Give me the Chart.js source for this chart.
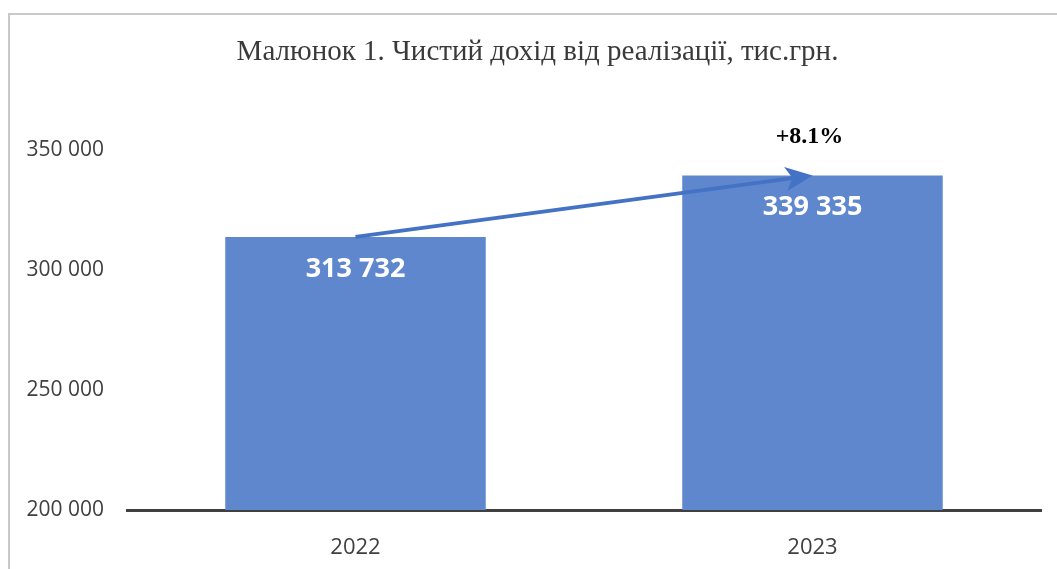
<!DOCTYPE html>
<html>
<head>
<meta charset="utf-8">
<script src="https://cdn.jsdelivr.net/npm/chart.js@4"></script>
<style>
  body { margin: 0; background: #fff; }
  #wrap { position: relative; width: 1057px; height: 569px; overflow: hidden; }
  #frame { position: absolute; left: 8px; top: 13px; width: 1100px; height: 600px;
           border-top: 2px solid #c9c9c9; border-left: 2px solid #c9c9c9; }
  canvas { position: absolute; left: 0; top: 0; }
</style>
</head>
<body>
<div id="wrap">
  <div id="frame"></div>
  <canvas id="chart" width="1057" height="569"></canvas>
</div>
<script>
// Чистий дохід від реалізації, тис.грн.
const years = ['2022', '2023'];
const revenue = [313732, 339335];
const growthLabel = '+8.1%';
const yTicks = [200000, 250000, 300000, 350000];

const fmt = v => String(v).replace(/\B(?=(\d{3})+(?!\d))/g, ' ');

// data labels inside bars, growth arrow and its label
const overlay = {
  id: 'overlay',
  afterDatasetsDraw(chart) {
    const ctx = chart.ctx;
    const bars = chart.getDatasetMeta(0).data;

    ctx.save();
    ctx.fillStyle = '#ffffff';
    ctx.font = 'bold 27px "Open Sans"';
    ctx.textAlign = 'center';
    ctx.textBaseline = 'middle';
    bars.forEach((b, i) => ctx.fillText(fmt(revenue[i]), b.x, b.y + 32));

    // arrow from top of first bar to top of second
    const a = bars[0], b = bars[1];
    const ang = Math.atan2(b.y - a.y, b.x - a.x);
    const headLen = 27, headW = 12;
    const bx = b.x - Math.cos(ang) * headLen * 0.75;
    const by = b.y - Math.sin(ang) * headLen * 0.75;
    ctx.strokeStyle = '#4472C4';
    ctx.fillStyle = '#4472C4';
    ctx.lineWidth = 4;
    ctx.beginPath();
    ctx.moveTo(a.x, a.y);
    ctx.lineTo(bx, by);
    ctx.stroke();
    const backX = b.x - Math.cos(ang) * headLen;
    const backY = b.y - Math.sin(ang) * headLen;
    const nx = -Math.sin(ang), ny = Math.cos(ang);
    ctx.beginPath();
    ctx.moveTo(b.x, b.y);
    ctx.lineTo(backX + nx * headW, backY + ny * headW);
    ctx.lineTo(bx, by);
    ctx.lineTo(backX - nx * headW, backY - ny * headW);
    ctx.closePath();
    ctx.fill();

    ctx.fillStyle = '#000000';
    ctx.font = 'bold 24px "Liberation Serif"';
    ctx.fillText(growthLabel, b.x - 3, b.y - 39);
    ctx.restore();
  }
};

new Chart(document.getElementById('chart'), {
  type: 'bar',
  data: {
    labels: years,
    datasets: [{
      data: revenue,
      backgroundColor: '#5E87CE',
      borderWidth: 0,
      barPercentage: 0.57,
      categoryPercentage: 1
    }]
  },
  options: {
    responsive: false,
    animation: false,
    layout: { padding: { left: 22, right: 4, top: 0, bottom: 11 } },
    plugins: {
      legend: { display: false },
      tooltip: { enabled: false },
      title: {
        display: true,
        text: 'Малюнок 1. Чистий дохід від реалізації, тис.грн.',
        color: '#3a3a3a',
        font: { family: '"Liberation Serif"', size: 29, weight: 'normal' },
        padding: { top: 35, bottom: 80 }
      }
    },
    scales: {
      x: {
        afterFit: s => { s.height = 48; },
        grid: { display: false, drawTicks: false },
        border: { display: true, color: '#404040', width: 3 },
        ticks: { color: '#404040', font: { family: '"Open Sans"', size: 22 }, padding: 25 }
      },
      y: {
        min: 200000,
        max: 350000,
        afterBuildTicks: s => { s.ticks = yTicks.map(v => ({ value: v })); },
        afterFit: s => { s.width = 105; },
        grid: { display: false, drawTicks: false },
        border: { display: false },
        ticks: {
          color: '#404040',
          font: { family: '"Open Sans"', size: 21 },
          padding: 23,
          callback: v => fmt(v)
        }
      },
      // empty spacer on the right so the title sits where it does in the original
      spacer: {
        position: 'right',
        afterFit: s => { s.width = 12; },
        grid: { display: false, drawTicks: false },
        border: { display: false },
        ticks: { display: false }
      }
    }
  },
  plugins: [overlay]
});
</script>
</body>
</html>
